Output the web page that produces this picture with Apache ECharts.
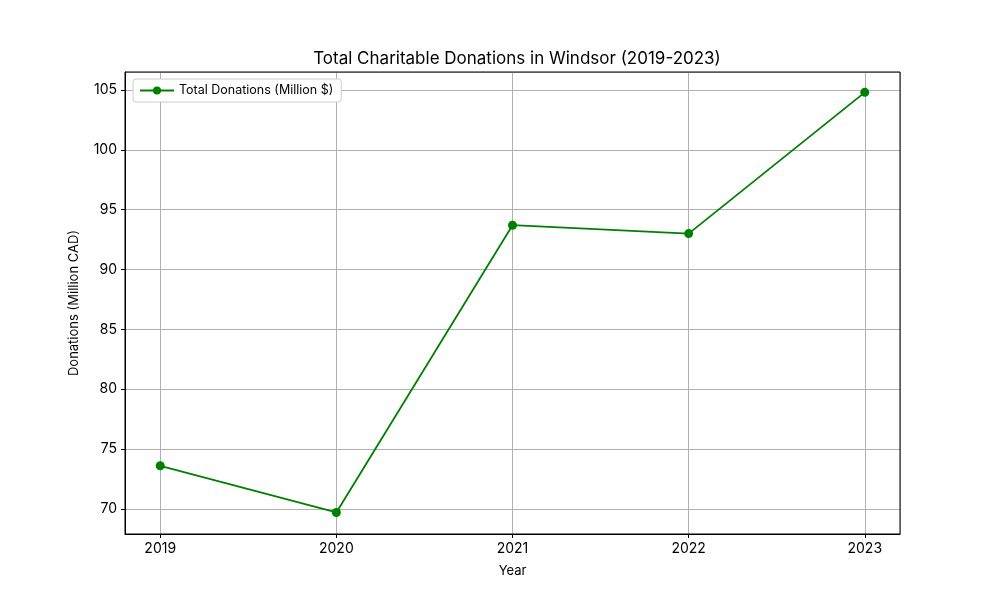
<!DOCTYPE html>
<html>
<head>
<meta charset="utf-8">
<script src="https://cdn.jsdelivr.net/npm/echarts@6/dist/echarts.min.js"></script>
<style>
  html, body { margin: 0; padding: 0; background: #fff; }
  #graph { width: 1000px; height: 600px; }
</style>
</head>
<body>
<div id="graph"></div>
<script>
var chart = echarts.init(document.getElementById('graph'));

// data
var years = [2019, 2020, 2021, 2022, 2023];
var donations = [73.6, 69.7, 93.7, 93.0, 104.8];

var seriesData = years.map(function (y, i) { return [y, donations[i]]; });
var font = 'Inter, "DejaVu Sans", sans-serif';

option = {
  animation: false,
  title: {
    text: 'Total Charitable Donations in Windsor (2019-2023)',
    left: 512,
    top: 45,
    textAlign: 'center',
    textStyle: { fontFamily: font, fontSize: 17, fontWeight: 'normal', color: '#000' }
  },
  legend: {
    left: 133,
    top: 79,
    padding: [5, 8, 5, 6],
    itemWidth: 34,
    itemHeight: 10,
    itemGap: 5,
    borderColor: '#ccc',
    borderWidth: 1,
    borderRadius: 3,
    backgroundColor: '#fff',
    textStyle: { fontFamily: font, fontSize: 12.5, color: '#000' },
    data: ['Total Donations (Million $)']
  },
  grid: {
    left: 125,
    right: 100,
    top: 72,
    bottom: 66
  },
  xAxis: {
    type: 'value',
    min: 2018.8,
    max: 2023.2,
    minInterval: 1,
    maxInterval: 1,
    name: 'Year',
    nameLocation: 'middle',
    nameGap: 31,
    nameTextStyle: { fontFamily: font, fontSize: 13, color: '#000' },
    axisLine: { lineStyle: { color: '#000', width: 1 } },
    axisTick: { length: 4, lineStyle: { color: '#000' } },
    axisLabel: {
      showMinLabel: false,
      showMaxLabel: false,
      margin: 8,
      fontFamily: font,
      fontSize: 14,
      color: '#000',
      formatter: function (v) { return String(v); }
    },
    splitLine: { show: true, lineStyle: { color: '#b0b0b0', width: 1 } }
  },
  yAxis: {
    type: 'value',
    min: 67.9,
    max: 106.5,
    minInterval: 5,
    maxInterval: 5,
    name: 'Donations (Million CAD)',
    nameLocation: 'middle',
    nameGap: 44,
    nameTextStyle: { fontFamily: font, fontSize: 13, color: '#000' },
    axisLine: { show: true, lineStyle: { color: '#000', width: 1 } },
    axisTick: { show: true, length: 4, lineStyle: { color: '#000' } },
    axisLabel: {
      showMinLabel: false,
      showMaxLabel: false,
      margin: 8,
      fontFamily: font,
      fontSize: 14,
      color: '#000'
    },
    splitLine: { show: true, lineStyle: { color: '#b0b0b0', width: 1 } }
  },
  series: [
    {
      name: 'Total Donations (Million $)',
      type: 'line',
      data: seriesData,
      symbol: 'circle',
      symbolSize: 9,
      itemStyle: { color: '#008000' },
      lineStyle: { color: '#008000', width: 1.8 }
    }
  ]
};

chart.setOption(option);
// frame on top and right like the reference
chart.setOption({
  graphic: [{
    type: 'rect',
    shape: { x: 125, y: 72, width: 775, height: 462 },
    style: { fill: 'none', stroke: '#000', lineWidth: 1 },
    silent: true
  }]
});
</script>
</body>
</html>
